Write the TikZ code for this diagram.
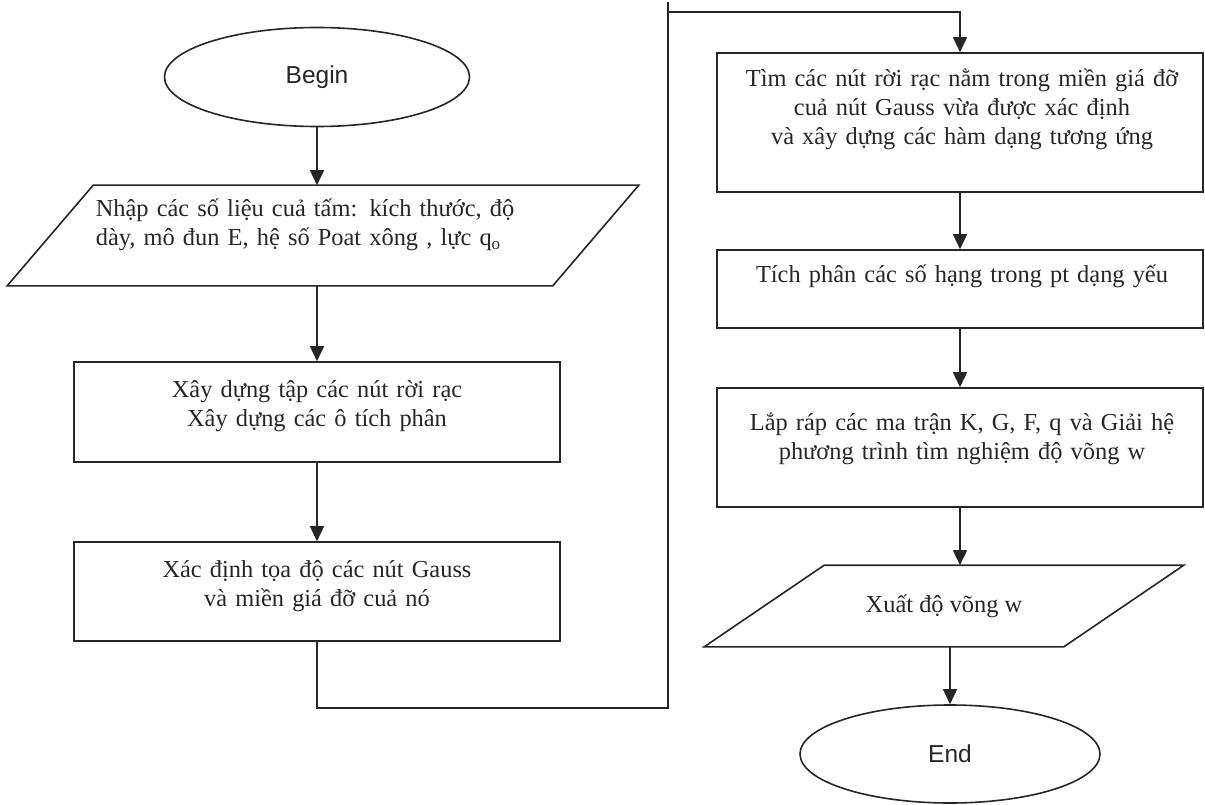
\documentclass[tikz,border=0pt]{standalone}
\usepackage{fontspec}
\setmainfont{Liberation Serif}
\newfontfamily\arialfont{Liberation Sans}
\usetikzlibrary{arrows.meta, shapes.geometric}

\begin{document}
\begin{tikzpicture}[x=1pt, y=-1pt, line width=1.6pt, color=black!85,
    terminal/.style={ellipse, draw, inner sep=0pt, font=\arialfont\fontsize{24.5}{28}\selectfont},
    flowbox/.style={rectangle, draw, minimum width=486pt, inner sep=0pt},
    iobox/.style={rectangle, inner sep=0pt},
    boxtext/.style={anchor=base, text width=480pt, align=center, inner sep=0pt, font=\fontsize{24.4}{29}\selectfont},
    arr/.style={-{Triangle[length=15pt, width=14pt]}}]
        \useasboundingbox (0,0) rectangle (1205,805);

        % left column
        \node[terminal, minimum width=305pt, minimum height=99pt] (begin) at (317,77) {Begin};
        \node[iobox, minimum width=630pt, minimum height=99pt] (input) at (323,235.5) {};
        \draw ([xshift=86pt]input.north west) -- (input.north east) -- ([xshift=-86pt]input.south east) -- (input.south west) -- cycle;
        \node[boxtext, anchor=base west, align=left] (input-txt) at (95,217)
            {Nhập các số liệu cuả tấm: kích thước, độ\\dày, mô đun E, hệ số Poat xông , lực q\textsubscript{o}};
        \node[flowbox, minimum height=100pt] (build) at (317,412) {};
        \node[boxtext] (build-txt) at (317,397) {Xây dựng tập các nút rời rạc\\Xây dựng các ô tích phân};
        \node[flowbox, minimum height=99pt] (gauss) at (317,591.5) {};
        \node[boxtext] (gauss-txt) at (317,577) {Xác định tọa độ các nút Gauss\\và miền giá đỡ cuả nó};

        % right column
        \node[flowbox, minimum height=139pt] (support) at (960,122.5) {};
        \node[boxtext] (support-txt) at (962,87) {Tìm các nút rời rạc nằm trong miền giá đỡ\\cuả nút Gauss vừa được xác định\\và xây dựng các hàm dạng tương ứng};
        \node[flowbox, minimum height=78pt] (integrate) at (960,289) {};
        \node[boxtext] (integrate-txt) at (962,282) {Tích phân các số hạng trong pt dạng yếu};
        \node[flowbox, minimum height=119pt] (assemble) at (960,447.5) {};
        \node[boxtext] (assemble-txt) at (962,430) {Lắp ráp các ma trận K, G, F, q và Giải hệ\\phương trình tìm nghiệm độ võng w};
        \node[iobox, minimum width=478pt, minimum height=80pt, font=\fontsize{24.4}{29}\selectfont] (output) at (944,606) {Xuất độ võng w};
        \draw ([xshift=120pt]output.north west) -- (output.north east) -- ([xshift=-120pt]output.south east) -- (output.south west) -- cycle;
        \node[terminal, minimum width=300pt, minimum height=98pt] (stop) at (950,754) {End};

        % loop between the columns
        \coordinate (loopA) at (668,708);
        \coordinate (loopB) at (668,12);
        \coordinate (loopTop) at (668,2);

        \draw[arr] (begin) -- (begin |- input.north);
        \draw[arr] (input.south -| build.north) -- (build.north);
        \draw[arr] (build) -- (gauss);
        \draw (gauss.south) |- (loopA) -- (loopTop);
        \draw[arr] (loopB) -| (support.north);
        \draw[arr] (support) -- (integrate);
        \draw[arr] (integrate) -- (assemble);
        \draw[arr] (assemble.south) -- (assemble.south |- output.north);
        \draw[arr] (stop.north |- output.south) -- (stop);
    \end{tikzpicture}
\end{document}
